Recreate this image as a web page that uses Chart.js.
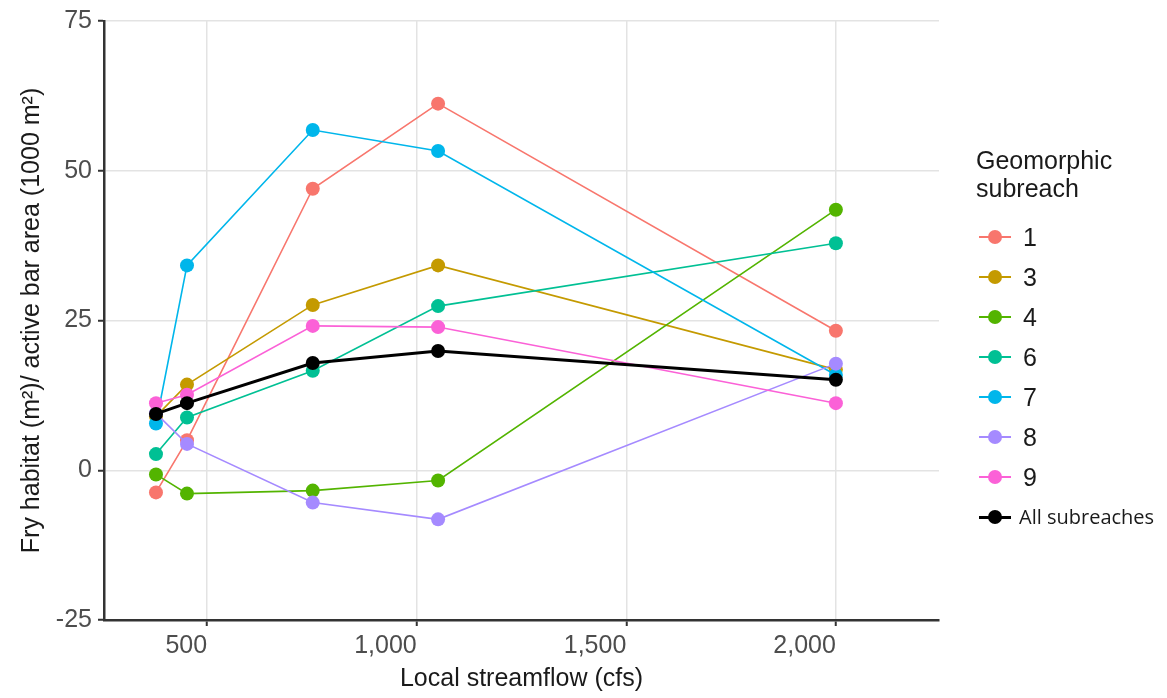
<!DOCTYPE html>
<html>
<head>
<meta charset="utf-8">
<script src="https://cdn.jsdelivr.net/npm/chart.js@4"></script>
<style>
  body { margin: 0; background: #fff; }
  #wrap { position: relative; width: 1167px; height: 698px; }
  #legend { position: absolute; left: 0; top: 0; font-family: Arial, "Liberation Sans", sans-serif; color: #1a1a1a; }
  .ltitle { position: absolute; left: 976px; top: 146px; font-size: 25px; line-height: 28px; white-space: nowrap; }
  .item { position: absolute; left: 976px; height: 20px; width: 190px; }
  .item .ln { position: absolute; left: 3px; top: 9px; width: 32px; height: 2px; }
  .item .dot { position: absolute; left: 12px; top: 3px; width: 14px; height: 14px; border-radius: 50%; }
  .item .lab { position: absolute; left: 47px; top: -4px; font-size: 25px; line-height: 28px; white-space: nowrap; }
</style>
</head>
<body>
<div id="wrap">
  <canvas id="myChart" width="1167" height="698"></canvas>
  <div id="legend"></div>
</div>
<script>
// local streamflow (cfs) at the five sampled discharges
var flows = [378, 452, 752, 1051, 2000];

// fry habitat per active bar area, by geomorphic subreach
var sub1 = [-3.7, 5.0, 47.0, 61.2, 23.3];
var sub3 = [9.0, 14.3, 27.6, 34.2, 16.8];
var sub4 = [-0.7, -3.9, -3.4, -1.7, 43.5];
var sub6 = [2.7, 8.8, 16.6, 27.4, 37.9];
var sub7 = [7.8, 34.2, 56.8, 53.3, 15.9];
var sub8 = [9.5, 4.4, -5.4, -8.2, 17.8];
var sub9 = [11.2, 12.6, 24.1, 23.9, 11.2];
var allSub = [9.4, 11.2, 17.9, 19.9, 15.1];

var seriesNames = ['1', '3', '4', '6', '7', '8', '9', 'All subreaches'];
var seriesValues = [sub1, sub3, sub4, sub6, sub7, sub8, sub9, allSub];
var seriesColors = ['#F8766D', '#C49A00', '#53B400', '#00C094', '#00B6EB', '#A58AFF', '#FB61D7', '#000000'];

var xTicks = [500, 1000, 1500, 2000];
var yTicks = [-25, 0, 25, 50, 75];

var datasets = seriesValues.map(function (vals, i) {
    var isAll = i === seriesValues.length - 1;
    return {
        label: seriesNames[i],
        data: vals.map(function (v, j) { return { x: flows[j], y: v }; }),
        borderColor: seriesColors[i],
        backgroundColor: seriesColors[i],
        borderWidth: isAll ? 3 : 1.6,
        pointRadius: 7,
        pointBorderWidth: 0,
        tension: 0,
        fill: false,
        // ggplot draws later groups on top, black last
        order: seriesValues.length - 1 - i
    };
});

var tickFont = { family: 'Arial, "Liberation Sans", sans-serif', size: 25 };
var titleFont = { family: 'Arial, "Liberation Sans", sans-serif', size: 25 };

var ctx = document.getElementById('myChart').getContext('2d');
var myChart = new Chart(ctx, {
    type: 'line',
    data: { datasets: datasets },
    options: {
        responsive: false,
        animation: false,
        layout: { padding: { top: 20, right: 228, bottom: 0, left: 0 } },
        plugins: {
            legend: { display: false },
            tooltip: { enabled: false }
        },
        scales: {
            x: {
                type: 'linear',
                min: 254,
                max: 2246,
                afterBuildTicks: function (s) { s.ticks = xTicks.map(function (v) { return { value: v }; }); },
                afterFit: function (s) { s.height = 78; },
                grid: { color: '#E3E3E3', lineWidth: 1.5, tickColor: '#333333', tickWidth: 2, tickLength: 6 },
                border: { color: '#333333', width: 2.5 },
                ticks: {
                    font: tickFont,
                    color: '#4D4D4D',
                    padding: 5,
                    align: 'end',
                    maxRotation: 0,
                    callback: function (v) { return v.toLocaleString('en-US'); }
                },
                title: { display: true, text: 'Local streamflow (cfs)', font: titleFont, color: '#1a1a1a', padding: { top: 0, bottom: 4 } }
            },
            y: {
                min: -25,
                max: 75,
                afterBuildTicks: function (s) { s.ticks = yTicks.map(function (v) { return { value: v }; }); },
                afterFit: function (s) { s.width = 104; },
                grid: { color: '#E3E3E3', lineWidth: 1.5, tickColor: '#333333', tickWidth: 2, tickLength: 6 },
                border: { color: '#333333', width: 2.5 },
                ticks: { font: tickFont, color: '#4D4D4D', padding: 6 },
                title: { display: true, text: 'Fry habitat (m\u00B2)/ active bar area (1000 m\u00B2)', font: titleFont, color: '#1a1a1a', padding: { top: 17, bottom: 0 } }
            }
        }
    }
});

// legend drawn as html beside the chart
var legend = document.getElementById('legend');
var t = document.createElement('div');
t.className = 'ltitle';
t.innerHTML = 'Geomorphic<br>subreach';
legend.appendChild(t);
seriesNames.forEach(function (name, i) {
    var isAll = i === seriesNames.length - 1;
    var it = document.createElement('div');
    it.className = 'item';
    it.style.top = (227 + i * 40) + 'px';
    var ln = document.createElement('div');
    ln.className = 'ln';
    ln.style.background = seriesColors[i];
    if (isAll) { ln.style.height = '3px'; ln.style.top = '9px'; }
    var dot = document.createElement('div');
    dot.className = 'dot';
    dot.style.background = seriesColors[i];
    var lab = document.createElement('div');
    lab.className = 'lab';
    lab.textContent = name;
    if (isAll) {
        lab.style.fontFamily = '"Open Sans", "Noto Sans", sans-serif';
        lab.style.fontSize = '20px';
        lab.style.left = '43px';
    }
    it.appendChild(ln);
    it.appendChild(dot);
    it.appendChild(lab);
    legend.appendChild(it);
});
</script>
</body>
</html>
